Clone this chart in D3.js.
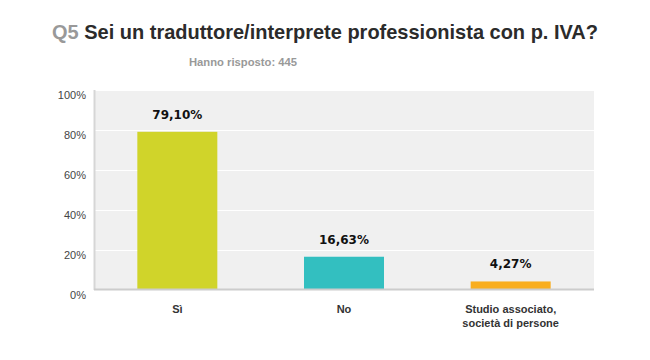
<!DOCTYPE html>
<html><head><meta charset="utf-8">
<script src="https://cdn.jsdelivr.net/npm/d3@7"></script>
<style>body{margin:0;background:#fff}svg{display:block}</style>
</head><body>
<svg id="c" width="650" height="360"></svg>
<script>
const categories = [["Sì"], ["No"], ["Studio associato,", "società di persone"]];
const values = [79.10, 16.63, 4.27];
const valueLabels = ["79,10%", "16,63%", "4,27%"];
const colors = ["#d0d42a", "#33bfc0", "#f9ae1f"];
const yTicks = [0, 20, 40, 60, 80, 100];

const svg = d3.select("#c");
const m = {l: 94, r: 594, t: 90, b: 290};
const x = d3.scaleBand().domain(d3.range(categories.length)).range([m.l, m.r]).paddingInner(0.52).paddingOuter(0.26);
const y = d3.scaleLinear().domain([0, 100]).range([m.b, m.t]);

// title
const title = svg.append("text").attr("x", 52).attr("y", 39)
  .attr("font-family", "Liberation Sans, Arial, sans-serif").attr("font-weight", "bold").attr("font-size", 21);
title.append("tspan").attr("fill", "#999").text("Q5 ");
title.append("tspan").attr("fill", "#2b2b2b").text("Sei un traduttore/interprete professionista con p. IVA?");
title.attr("textLength", 546).attr("lengthAdjust", "spacingAndGlyphs");

svg.append("text").attr("x", 189).attr("y", 66)
  .attr("font-family", "Liberation Sans, Arial, sans-serif").attr("font-weight", "bold").attr("font-size", 11)
  .attr("fill", "#999").attr("textLength", 108).attr("lengthAdjust", "spacingAndGlyphs").text("Hanno risposto: 445");

// plot background
svg.append("rect").attr("x", m.l).attr("y", m.t).attr("width", m.r - m.l).attr("height", m.b - m.t).attr("fill", "#f0f0f0");

// gridlines
svg.append("g").selectAll("line").data(yTicks.filter(d => d > 0)).join("line")
  .attr("x1", m.l).attr("x2", m.r).attr("y1", d => y(d) + 0.5).attr("y2", d => y(d) + 0.5)
  .attr("stroke", "#fff").attr("stroke-width", 1);

// y axis
const yAxis = d3.axisLeft(y).tickValues(yTicks).tickFormat(d => d + "%").tickSize(0).tickPadding(8);
const ya = svg.append("g").attr("transform", `translate(${m.l},0)`).call(yAxis);
ya.select(".domain").remove();
ya.selectAll("text").attr("font-family", "Liberation Sans, Arial, sans-serif").attr("font-size", 11)
  .attr("fill", "#444").attr("dy", "0.75em");

// bars
svg.append("g").selectAll("rect").data(values).join("rect")
  .attr("x", (d, i) => x(i)).attr("width", x.bandwidth())
  .attr("y", d => y(d)).attr("height", d => y(0) - y(d))
  .attr("fill", (d, i) => colors[i]);

// axis lines
svg.append("line").attr("x1", m.l + 0.5).attr("x2", m.l + 0.5).attr("y1", m.t).attr("y2", m.b).attr("stroke", "#d6d6d6").attr("stroke-width", 2);
svg.append("line").attr("x1", m.l).attr("x2", m.r).attr("y1", m.b - 0.5).attr("y2", m.b - 0.5).attr("stroke", "#cccccc").attr("stroke-width", 2);

// value labels
svg.append("g").selectAll("text").data(values).join("text")
  .attr("x", (d, i) => x(i) + x.bandwidth() / 2).attr("y", d => y(d) - 13)
  .attr("text-anchor", "middle").attr("font-family", "DejaVu Sans, sans-serif").attr("font-weight", "bold")
  .attr("font-size", 12).attr("fill", "#111").text((d, i) => valueLabels[i]);

// category labels
const cl = svg.append("g").selectAll("text").data(categories).join("text")
  .attr("x", (d, i) => x(i) + x.bandwidth() / 2).attr("y", 313)
  .attr("text-anchor", "middle").attr("font-family", "Liberation Sans, Arial, sans-serif").attr("font-weight", "bold")
  .attr("font-size", 11).attr("fill", "#333");
cl.each(function(d, i) {
  d3.select(this).selectAll("tspan").data(d).join("tspan")
    .attr("x", x(i) + x.bandwidth() / 2).attr("dy", (t, j) => j === 0 ? 0 : 14).text(t => t);
});
</script>
</body></html>
